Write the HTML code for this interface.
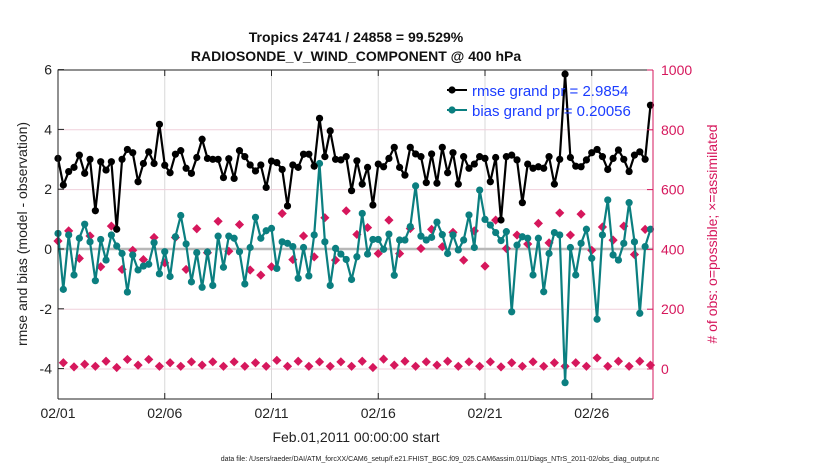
<!DOCTYPE html>
<html><head><meta charset="utf-8"><style>
body{margin:0;background:#fff;}
svg{display:block;font-family:"Liberation Sans",sans-serif;}
</style></head><body>
<svg id="chart" width="830" height="470">
<g id="grid"></g><g id="series"></g><g id="axes"></g>
</svg>
<script>
const rmse=[3.03,2.14,2.59,2.73,3.14,2.53,3.0,1.28,2.92,2.64,2.92,0.66,3.0,3.33,3.22,2.25,2.86,3.25,2.86,4.17,2.8,2.55,3.17,3.29,2.70,2.53,3.06,3.67,3.03,3.0,3.0,2.39,3.02,2.36,3.29,3.09,2.81,2.61,2.81,2.06,2.94,2.89,2.66,1.44,2.81,2.73,3.17,3.17,2.77,4.37,3.09,3.95,3.0,2.98,3.09,1.95,2.95,2.17,2.73,1.47,2.84,2.75,3.03,3.40,2.73,2.47,3.40,3.18,3.09,2.22,3.18,2.20,3.40,2.55,3.22,2.17,3.09,2.70,2.84,3.09,3.03,2.25,3.06,0.97,3.09,3.14,2.98,1.55,2.84,2.70,2.75,2.70,3.09,2.17,3.0,5.85,3.06,2.77,2.75,2.98,3.22,3.33,3.09,2.66,3.03,3.31,3.0,2.59,3.14,3.25,3.0,4.81];
const bias=[0.52,-1.35,0.47,-0.87,0.36,0.83,0.24,-1.06,0.32,-0.37,0.47,0.10,-0.15,-1.44,-0.20,-0.70,-0.57,-0.51,0.21,-0.83,-0.09,-0.92,0.41,1.12,0.17,-1.10,-0.12,-1.28,-0.10,-1.22,0.43,-0.61,0.43,0.36,-0.09,-1.17,0.05,1.06,0.36,0.61,0.69,-0.65,0.24,0.19,0.08,-0.98,0.05,-0.90,0.47,2.86,0.24,-1.22,0.02,-0.17,-0.35,-1.02,-0.26,1.19,-0.17,0.32,0.32,-0.01,0.50,-0.88,0.30,0.30,0.75,2.11,0.43,0.30,0.39,0.90,0.48,-0.15,0.47,-0.03,0.30,1.14,0.05,1.97,0.99,0.80,0.55,0.28,0.58,-2.10,0.13,0.41,0.36,-0.87,0.36,-1.43,-0.15,0.55,0.47,-4.47,0.05,-0.87,0.19,0.66,-0.31,-2.35,0.47,1.64,-0.20,-0.37,0.19,1.55,0.24,-2.15,0.08,0.66];
const nobs=[428,21,462,7,370,16,445,9,342,26,478,5,333,32,397,13,366,32,440,9,355,21,440,9,333,24,469,13,389,24,494,9,394,24,483,9,331,21,314,9,342,29,520,9,366,26,445,9,375,24,506,9,364,24,529,9,450,26,473,5,386,33,498,13,386,26,470,9,403,24,467,13,409,26,457,9,364,24,462,9,344,24,498,7,403,21,448,9,418,24,487,9,422,21,522,9,448,21,518,9,397,37,475,9,431,26,478,9,383,26,467,13];
const xTickLabels=["02/01","02/06","02/11","02/16","02/21","02/26"];
const xTickDays=[0,5,10,15,20,25];
const yTicks=[-4,-2,0,2,4,6];
const y2Ticks=[0,200,400,600,800,1000];

const L=58,R=653,T=70,B=399,DAY=21.35;
const NS="http://www.w3.org/2000/svg";
function xs(i){return L+i*DAY/4;}
function xd(d){return L+d*DAY;}
function ys(v){return 249-v*29.9;}
function y2(c){return 369-c*0.299;}
function mk(tag,attrs,parent,text){const e=document.createElementNS(NS,tag);for(const k in attrs)e.setAttribute(k,attrs[k]);if(text!==undefined)e.textContent=text;parent.appendChild(e);return e;}
const grid=document.getElementById('grid'),ser=document.getElementById('series'),ax=document.getElementById('axes');
const MAG="#d6175c",TEAL="#0b7f80";
xTickDays.forEach(d=>{if(d>0){const l=mk('line',{x1:xd(d),x2:xd(d),y1:T,y2:B,stroke:'#d8d8d8','stroke-width':1},grid);

}});
y2Ticks.forEach(c=>{if(c!==400&&c!==1000){const l=mk('line',{x1:L,x2:R,y1:y2(c),y2:y2(c),stroke:'#f0d0dc','stroke-width':1},grid);

}});
const zl=mk('line',{x1:L,x2:R,y1:ys(0),y2:ys(0),stroke:'#b8b8b8','stroke-width':2.5},grid);


nobs.forEach((c,i)=>{const x=xs(i),y=y2(c);
const g=mk('path',{d:`M${x} ${y-4.6}L${x+4.6} ${y}L${x} ${y+4.6}L${x-4.6} ${y}Z`,fill:MAG},ser);

});
function line(data,color,name){
 const pts=data.map((v,i)=>xs(i).toFixed(1)+','+ys(v).toFixed(1)).join(' ');
 const p=mk('polyline',{points:pts,fill:'none',stroke:color,'stroke-width':2.2},ser);
 
 
 data.forEach((v,i)=>{const c=mk('circle',{cx:xs(i),cy:ys(v),r:3.6,fill:color},ser);
 
 });
}
line(bias,TEAL,'bias');
line(rmse,'#000','rmse');
const fr=mk('path',{d:`M${L} ${B}L${L} ${T}L${R} ${T}`,fill:'none',stroke:'#222','stroke-width':1},ax);


const bx=mk('line',{x1:L,x2:R,y1:B,y2:B,stroke:'#222','stroke-width':1},ax);


const ra=mk('line',{x1:R,x2:R,y1:T,y2:B,stroke:MAG,'stroke-width':1},ax);


xTickDays.forEach((d,k)=>{const x=xd(d);
mk('line',{x1:x,x2:x,y1:B,y2:B-6,stroke:'#222'},ax);mk('line',{x1:x,x2:x,y1:T,y2:T+6,stroke:'#222'},ax);
const t=mk('text',{x:x,y:418,'text-anchor':'middle','font-size':14,fill:'#222'},ax,xTickLabels[k]);

});
yTicks.forEach(v=>{const y=ys(v);mk('line',{x1:L,x2:L+6,y1:y,y2:y,stroke:'#222'},ax);
const t=mk('text',{x:L-6,y:y+5,'text-anchor':'end','font-size':14,fill:'#222'},ax,String(v));

});
y2Ticks.forEach(c=>{const y=y2(c);mk('line',{x1:R,x2:R-6,y1:y,y2:y,stroke:MAG},ax);
const t=mk('text',{x:R+8,y:y+5,'font-size':14,fill:MAG},ax,String(c));

});
</script>
<svg width="830" height="470" style="position:absolute;left:0;top:0">
<text x="356" y="42" text-anchor="middle" font-size="14" font-weight="bold" fill="#111">Tropics 24741 / 24858 = 99.529%</text>
<text x="356" y="61" text-anchor="middle" font-size="14" font-weight="bold" fill="#111">RADIOSONDE_V_WIND_COMPONENT @ 400 hPa</text>
<text x="356" y="442" text-anchor="middle" font-size="14" fill="#222">Feb.01,2011 00:00:00 start</text>
<text x="440" y="461" text-anchor="middle" font-size="7" fill="#222">data file: /Users/raeder/DAI/ATM_forcXX/CAM6_setup/f.e21.FHIST_BGC.f09_025.CAM6assim.011/Diags_NTrS_2011-02/obs_diag_output.nc</text>
<text transform="translate(27,234) rotate(-90)" text-anchor="middle" font-size="14" fill="#222">rmse and bias (model - observation)</text>
<text transform="translate(717,234) rotate(-90)" text-anchor="middle" font-size="14" fill="#d6175c"># of obs: o=possible; ×=assimilated</text>
<g>
<line x1="447" x2="467" y1="90" y2="90" stroke="#000" stroke-width="2"/><circle cx="452" cy="90" r="3.6" fill="#000"/>
<text x="472" y="96" font-size="15" fill="#1a3cff">rmse grand pr = 2.9854</text>
<line x1="447" x2="467" y1="110" y2="110" stroke="#0b7f80" stroke-width="2"/><circle cx="452" cy="110" r="3.6" fill="#0b7f80"/>
<text x="472" y="116" font-size="15" fill="#1a3cff">bias grand pr = 0.20056</text>
</g>
</svg>
</body></html>
